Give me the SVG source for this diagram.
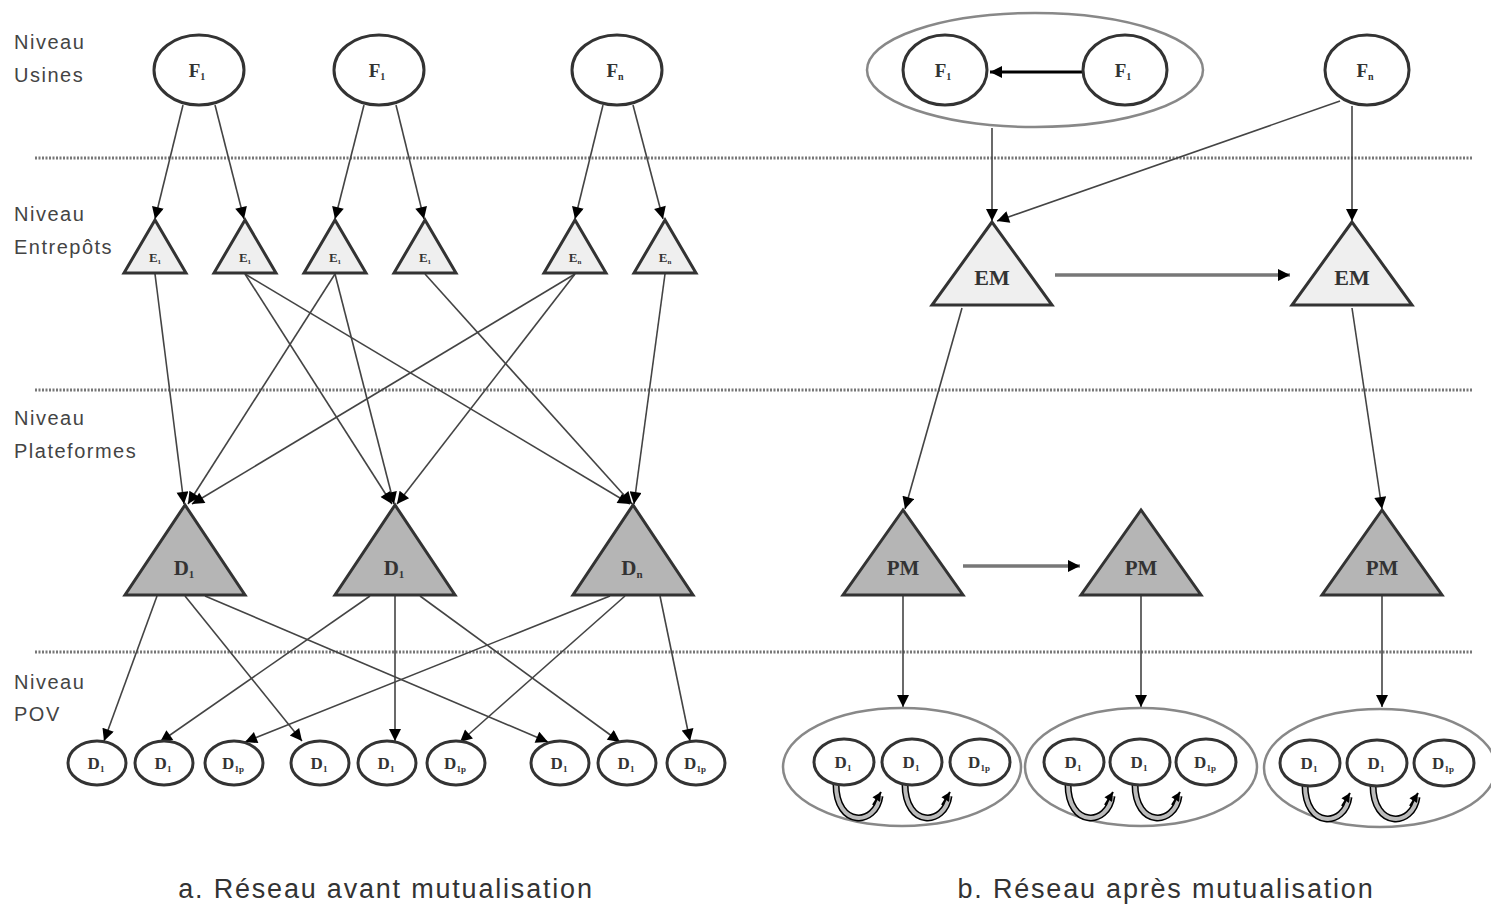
<svg xmlns="http://www.w3.org/2000/svg" width="1491" height="904" viewBox="0 0 1491 904">
<style>
.sep{stroke:#777;stroke-width:3;stroke-dasharray:2 1.5;fill:none}
.node{fill:#fff;stroke:#333;stroke-width:3}
.grp{fill:none;stroke:#888;stroke-width:2.5}
.te{fill:#efefef;stroke:#333;stroke-width:3}
.td{fill:#b5b5b5;stroke:#333;stroke-width:3}
.lbl{font-family:"Liberation Serif",serif;font-weight:bold;fill:#333;text-anchor:middle}
.lv{font-family:"Liberation Sans",sans-serif;font-size:20px;letter-spacing:1.5px;fill:#444}
.cap{font-family:"Liberation Sans",sans-serif;font-size:27px;letter-spacing:1.8px;fill:#333;text-anchor:middle}
.ln{stroke:#444;stroke-width:1.6;fill:none;marker-end:url(#ah)}
.thick{stroke:#777;stroke-width:3.5;fill:none;marker-end:url(#ah)}
.cu{fill:none;stroke:#000;stroke-width:7}
.cu2{fill:none;stroke:#bbb;stroke-width:4}
</style>
<defs>
<marker id="ah" viewBox="0 0 10 10" refX="10" refY="5" markerWidth="14" markerHeight="12" markerUnits="userSpaceOnUse" orient="auto"><path d="M0,0 L10,5 L0,10 z" fill="#000"/></marker>
<marker id="ahs" viewBox="0 0 10 10" refX="10" refY="5" markerWidth="10" markerHeight="9" markerUnits="userSpaceOnUse" orient="auto"><path d="M0,0 L10,5 L0,10 z" fill="#000"/></marker>
</defs>
<rect width="1491" height="904" fill="#fff"/>
<g id="separators">
<line class="sep" x1="35" y1="158" x2="1472" y2="158"/>
<line class="sep" x1="35" y1="390" x2="1472" y2="390"/>
<line class="sep" x1="35" y1="652" x2="1472" y2="652"/>
</g>
<g id="level-labels">
<text class="lv" x="14" y="49">Niveau</text>
<text class="lv" x="14" y="82">Usines</text>
<text class="lv" x="14" y="221">Niveau</text>
<text class="lv" x="14" y="254">Entrepôts</text>
<text class="lv" x="14" y="425">Niveau</text>
<text class="lv" x="14" y="458">Plateformes</text>
<text class="lv" x="14" y="689">Niveau</text>
<text class="lv" x="14" y="721">POV</text>
</g>
<g id="connectors">
<line class="ln" x1="183" y1="105" x2="155" y2="219"/>
<line class="ln" x1="215" y1="105" x2="244" y2="219"/>
<line class="ln" x1="364" y1="105" x2="335" y2="219"/>
<line class="ln" x1="396" y1="105" x2="424" y2="219"/>
<line class="ln" x1="603" y1="105" x2="575" y2="219"/>
<line class="ln" x1="633" y1="105" x2="663" y2="219"/>
<line class="ln" x1="155" y1="274" x2="184" y2="504"/>
<line class="ln" x1="245" y1="274" x2="392" y2="504"/>
<line class="ln" x1="245" y1="274" x2="630" y2="504"/>
<line class="ln" x1="335" y1="274" x2="188" y2="504"/>
<line class="ln" x1="335" y1="274" x2="394" y2="504"/>
<line class="ln" x1="425" y1="274" x2="632" y2="504"/>
<line class="ln" x1="575" y1="274" x2="192" y2="504"/>
<line class="ln" x1="575" y1="274" x2="397" y2="504"/>
<line class="ln" x1="665" y1="274" x2="634" y2="504"/>
<line class="ln" x1="157" y1="596" x2="104" y2="741"/>
<line class="ln" x1="185" y1="596" x2="302" y2="741"/>
<line class="ln" x1="205" y1="596" x2="548" y2="742"/>
<line class="ln" x1="370" y1="596" x2="160" y2="742"/>
<line class="ln" x1="395" y1="596" x2="395" y2="741"/>
<line class="ln" x1="420" y1="596" x2="620" y2="742"/>
<line class="ln" x1="610" y1="596" x2="245" y2="742"/>
<line class="ln" x1="625" y1="596" x2="460" y2="742"/>
<line class="ln" x1="660" y1="596" x2="690" y2="741"/>
<line x1="1083" y1="72" x2="990" y2="72" stroke="#000" stroke-width="3" marker-end="url(#ah)"/>
<line class="ln" x1="992" y1="128" x2="992" y2="221"/>
<line class="ln" x1="1340" y1="101" x2="997" y2="221"/>
<line class="ln" x1="1352" y1="106" x2="1352" y2="221"/>
<line class="thick" x1="1055" y1="275" x2="1290" y2="275"/>
<line class="ln" x1="962" y1="308" x2="905" y2="509"/>
<line class="ln" x1="1352" y1="308" x2="1382" y2="509"/>
<line class="thick" x1="963" y1="566" x2="1080" y2="566"/>
<line class="ln" x1="903" y1="596" x2="903" y2="707"/>
<line class="ln" x1="1141" y1="596" x2="1141" y2="707"/>
<line class="ln" x1="1382" y1="596" x2="1382" y2="707"/>
</g>
<g id="usines-a">
<g id="Fa1"><ellipse class="node" cx="199" cy="70" rx="45" ry="35"/><text class="lbl" x="197" y="77" font-size="19">F<tspan font-size="10" dy="3">1</tspan></text></g>
<g id="Fa2"><ellipse class="node" cx="379" cy="70" rx="45" ry="35"/><text class="lbl" x="377" y="77" font-size="19">F<tspan font-size="10" dy="3">1</tspan></text></g>
<g id="Fa3"><ellipse class="node" cx="617" cy="70" rx="45" ry="35"/><text class="lbl" x="615" y="77" font-size="19">F<tspan font-size="10" dy="3">n</tspan></text></g>
</g>
<g id="entrepots-a">
<g id="Ea1"><polygon class="te" points="155,220 124,273 186,273"/><text class="lbl" x="155" y="262" font-size="13">E<tspan font-size="7" dy="2">1</tspan></text></g>
<g id="Ea2"><polygon class="te" points="245,220 214,273 276,273"/><text class="lbl" x="245" y="262" font-size="13">E<tspan font-size="7" dy="2">1</tspan></text></g>
<g id="Ea3"><polygon class="te" points="335,220 304,273 366,273"/><text class="lbl" x="335" y="262" font-size="13">E<tspan font-size="7" dy="2">1</tspan></text></g>
<g id="Ea4"><polygon class="te" points="425,220 394,273 456,273"/><text class="lbl" x="425" y="262" font-size="13">E<tspan font-size="7" dy="2">1</tspan></text></g>
<g id="Ea5"><polygon class="te" points="575,220 544,273 606,273"/><text class="lbl" x="575" y="262" font-size="13">E<tspan font-size="7" dy="2">n</tspan></text></g>
<g id="Ea6"><polygon class="te" points="665,220 634,273 696,273"/><text class="lbl" x="665" y="262" font-size="13">E<tspan font-size="7" dy="2">n</tspan></text></g>
</g>
<g id="plateformes-a">
<g id="Da1"><polygon class="td" points="185,505 125,595 245,595"/><text class="lbl" x="184" y="575" font-size="21">D<tspan font-size="11" dy="3">1</tspan></text></g>
<g id="Da2"><polygon class="td" points="395,505 335,595 455,595"/><text class="lbl" x="394" y="575" font-size="21">D<tspan font-size="11" dy="3">1</tspan></text></g>
<g id="Da3"><polygon class="td" points="633,505 573,595 693,595"/><text class="lbl" x="632" y="575" font-size="21">D<tspan font-size="11" dy="3">n</tspan></text></g>
</g>
<g id="pov-a">
<g id="Pa1"><ellipse class="node" cx="97" cy="763" rx="29" ry="22"/><text class="lbl" x="96" y="769" font-size="17">D<tspan font-size="9" dy="3">1</tspan></text></g>
<g id="Pa2"><ellipse class="node" cx="164" cy="763" rx="29" ry="22"/><text class="lbl" x="163" y="769" font-size="17">D<tspan font-size="9" dy="3">1</tspan></text></g>
<g id="Pa3"><ellipse class="node" cx="234" cy="763" rx="29" ry="22"/><text class="lbl" x="233" y="769" font-size="17">D<tspan font-size="9" dy="3">1p</tspan></text></g>
<g id="Pa4"><ellipse class="node" cx="320" cy="763" rx="29" ry="22"/><text class="lbl" x="319" y="769" font-size="17">D<tspan font-size="9" dy="3">1</tspan></text></g>
<g id="Pa5"><ellipse class="node" cx="387" cy="763" rx="29" ry="22"/><text class="lbl" x="386" y="769" font-size="17">D<tspan font-size="9" dy="3">1</tspan></text></g>
<g id="Pa6"><ellipse class="node" cx="456" cy="763" rx="29" ry="22"/><text class="lbl" x="455" y="769" font-size="17">D<tspan font-size="9" dy="3">1p</tspan></text></g>
<g id="Pa7"><ellipse class="node" cx="560" cy="763" rx="29" ry="22"/><text class="lbl" x="559" y="769" font-size="17">D<tspan font-size="9" dy="3">1</tspan></text></g>
<g id="Pa8"><ellipse class="node" cx="627" cy="763" rx="29" ry="22"/><text class="lbl" x="626" y="769" font-size="17">D<tspan font-size="9" dy="3">1</tspan></text></g>
<g id="Pa9"><ellipse class="node" cx="696" cy="763" rx="29" ry="22"/><text class="lbl" x="695" y="769" font-size="17">D<tspan font-size="9" dy="3">1p</tspan></text></g>
</g>
<g id="usines-b">
<g id="Gb"><ellipse class="grp" cx="1035" cy="70" rx="168" ry="57"/></g>
<g id="Fb1"><ellipse class="node" cx="945" cy="70" rx="42" ry="35"/><text class="lbl" x="943" y="77" font-size="19">F<tspan font-size="10" dy="3">1</tspan></text></g>
<g id="Fb2"><ellipse class="node" cx="1125" cy="70" rx="42" ry="35"/><text class="lbl" x="1123" y="77" font-size="19">F<tspan font-size="10" dy="3">1</tspan></text></g>
<g id="Fb3"><ellipse class="node" cx="1367" cy="70" rx="42" ry="35"/><text class="lbl" x="1365" y="77" font-size="19">F<tspan font-size="10" dy="3">n</tspan></text></g>
</g>
<g id="entrepots-b">
<g id="EM1"><polygon class="te" points="992,222 932,305 1052,305"/><text class="lbl" x="992" y="285" font-size="22">EM</text></g>
<g id="EM2"><polygon class="te" points="1352,222 1292,305 1412,305"/><text class="lbl" x="1352" y="285" font-size="22">EM</text></g>
</g>
<g id="plateformes-b">
<g id="PM1"><polygon class="td" points="903,510 843,595 963,595"/><text class="lbl" x="903" y="575" font-size="21">PM</text></g>
<g id="PM2"><polygon class="td" points="1141,510 1081,595 1201,595"/><text class="lbl" x="1141" y="575" font-size="21">PM</text></g>
<g id="PM3"><polygon class="td" points="1382,510 1322,595 1442,595"/><text class="lbl" x="1382" y="575" font-size="21">PM</text></g>
</g>
<g id="pov-b1">
<ellipse class="grp" cx="902" cy="767" rx="119" ry="59"/>
<path class="cu" d="M836,784 C836,828 876,826 880,796"/><path class="cu2" d="M836,784 C836,828 876,826 880,796"/>
<path class="cu" d="M905,784 C905,828 945,826 949,796"/><path class="cu2" d="M905,784 C905,828 945,826 949,796"/>
<line x1="873" y1="805" x2="881" y2="792" stroke="#000" stroke-width="2" marker-end="url(#ahs)"/>
<line x1="942" y1="805" x2="950" y2="792" stroke="#000" stroke-width="2" marker-end="url(#ahs)"/>
<ellipse class="node" cx="844" cy="762" rx="30" ry="23"/><text class="lbl" x="843" y="768" font-size="17">D<tspan font-size="9" dy="3">1</tspan></text>
<ellipse class="node" cx="912" cy="762" rx="30" ry="23"/><text class="lbl" x="911" y="768" font-size="17">D<tspan font-size="9" dy="3">1</tspan></text>
<ellipse class="node" cx="980" cy="762" rx="30" ry="23"/><text class="lbl" x="979" y="768" font-size="17">D<tspan font-size="9" dy="3">1p</tspan></text>
</g>
<g id="pov-b2">
<ellipse class="grp" cx="1141" cy="767" rx="116" ry="59"/>
<path class="cu" d="M1068,784 C1068,828 1108,826 1112,796"/><path class="cu2" d="M1068,784 C1068,828 1108,826 1112,796"/>
<path class="cu" d="M1135,784 C1135,828 1175,826 1179,796"/><path class="cu2" d="M1135,784 C1135,828 1175,826 1179,796"/>
<line x1="1105" y1="805" x2="1113" y2="792" stroke="#000" stroke-width="2" marker-end="url(#ahs)"/>
<line x1="1172" y1="805" x2="1180" y2="792" stroke="#000" stroke-width="2" marker-end="url(#ahs)"/>
<ellipse class="node" cx="1074" cy="762" rx="30" ry="23"/><text class="lbl" x="1073" y="768" font-size="17">D<tspan font-size="9" dy="3">1</tspan></text>
<ellipse class="node" cx="1140" cy="762" rx="30" ry="23"/><text class="lbl" x="1139" y="768" font-size="17">D<tspan font-size="9" dy="3">1</tspan></text>
<ellipse class="node" cx="1206" cy="762" rx="30" ry="23"/><text class="lbl" x="1205" y="768" font-size="17">D<tspan font-size="9" dy="3">1p</tspan></text>
</g>
<g id="pov-b3">
<ellipse class="grp" cx="1380" cy="768" rx="116" ry="59"/>
<path class="cu" d="M1305,785 C1305,829 1345,827 1349,797"/><path class="cu2" d="M1305,785 C1305,829 1345,827 1349,797"/>
<path class="cu" d="M1373,785 C1373,829 1413,827 1417,797"/><path class="cu2" d="M1373,785 C1373,829 1413,827 1417,797"/>
<line x1="1342" y1="806" x2="1350" y2="793" stroke="#000" stroke-width="2" marker-end="url(#ahs)"/>
<line x1="1410" y1="806" x2="1418" y2="793" stroke="#000" stroke-width="2" marker-end="url(#ahs)"/>
<ellipse class="node" cx="1310" cy="763" rx="30" ry="23"/><text class="lbl" x="1309" y="769" font-size="17">D<tspan font-size="9" dy="3">1</tspan></text>
<ellipse class="node" cx="1377" cy="763" rx="30" ry="23"/><text class="lbl" x="1376" y="769" font-size="17">D<tspan font-size="9" dy="3">1</tspan></text>
<ellipse class="node" cx="1444" cy="763" rx="30" ry="23"/><text class="lbl" x="1443" y="769" font-size="17">D<tspan font-size="9" dy="3">1p</tspan></text>
</g>
<g id="captions">
<text class="cap" x="386" y="898">a. Réseau avant mutualisation</text>
<text class="cap" x="1166" y="898">b. Réseau après mutualisation</text>
</g>
</svg>
